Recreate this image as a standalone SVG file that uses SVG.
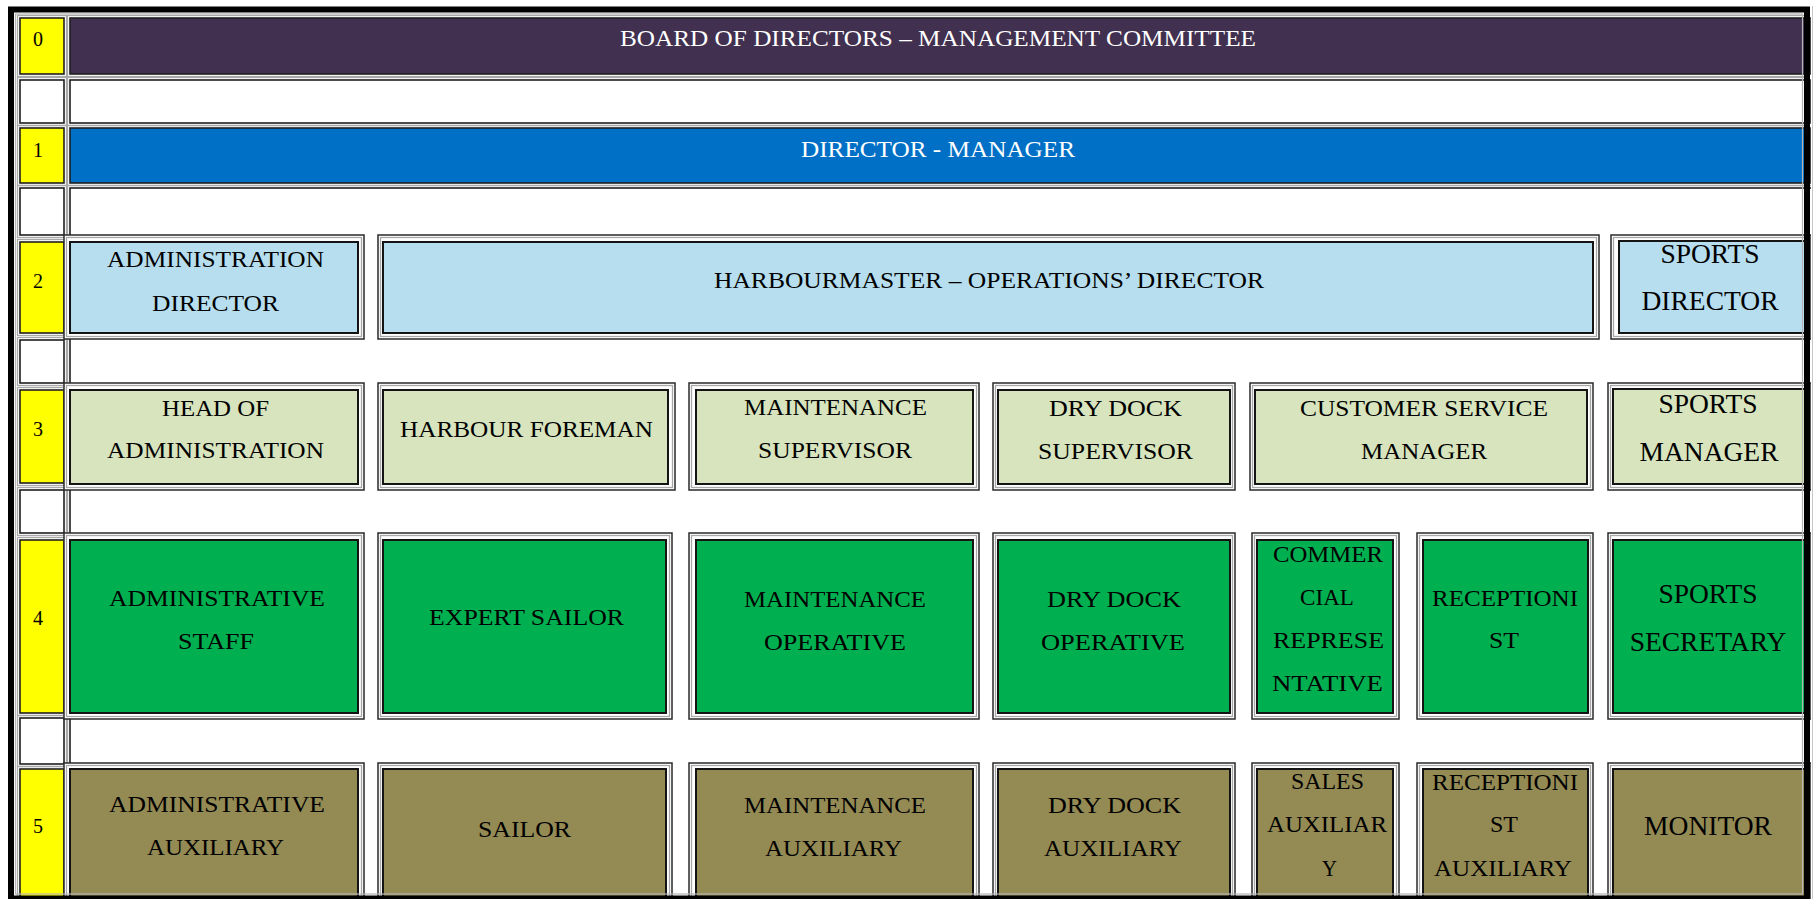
<svg xmlns="http://www.w3.org/2000/svg" width="1815" height="899" viewBox="0 0 1815 899">
<style>
.o{fill:#fff;stroke:#2a2a2a;stroke-width:1.5}
.g{fill:none;stroke:#a8a8a8;stroke-width:1.3}
.f{stroke:#141414;stroke-width:2}
.c{stroke:#1e1e1e;stroke-width:1.6}
.t{font-family:"Liberation Serif","Times New Roman",serif;font-size:23px;fill:#000;text-anchor:middle}
.w{fill:#fff}
.s{font-family:"Liberation Serif","Times New Roman",serif;font-size:27.5px;fill:#000;text-anchor:middle}
.n{font-family:"Liberation Serif","Times New Roman",serif;font-size:20px;fill:#000;text-anchor:middle}
.pu{fill:#41304f}.bl{fill:#0070c6}.lb{fill:#b6deee}.lg{fill:#d7e4bd}.gr{fill:#00b050}.ol{fill:#948a54}.ye{fill:#ffff00}.wh{fill:#fff}
</style>
<rect width="1815" height="899" fill="#fff"/>

<g id="level-column">
  <g id="lv0"><rect class="g" x="17.5" y="15.5" width="49" height="61"/><rect class="c ye" x="20" y="18" width="44" height="56"/><text class="n" x="38" y="46">0</text></g>
  <rect class="g" x="17.5" y="77.5" width="49" height="48"/><rect class="c wh" x="20" y="80" width="44" height="43"/>
  <g id="lv1"><rect class="g" x="17.5" y="125.5" width="49" height="60"/><rect class="c ye" x="20" y="128" width="44" height="55"/><text class="n" x="38" y="157">1</text></g>
  <rect class="g" x="17.5" y="185.5" width="49" height="52"/><rect class="c wh" x="20" y="188" width="44" height="47"/>
  <g id="lv2"><rect class="g" x="17.5" y="239.5" width="49" height="96"/><rect class="c ye" x="20" y="242" width="44" height="91"/><text class="n" x="38" y="288">2</text></g>
  <rect class="g" x="17.5" y="337.5" width="49" height="48"/><rect class="c wh" x="20" y="340" width="44" height="43"/>
  <g id="lv3"><rect class="g" x="17.5" y="387.5" width="49" height="98"/><rect class="c ye" x="20" y="390" width="44" height="93"/><text class="n" x="38" y="436">3</text></g>
  <rect class="g" x="17.5" y="487.5" width="49" height="48"/><rect class="c wh" x="20" y="490" width="44" height="43"/>
  <g id="lv4"><rect class="g" x="17.5" y="537.5" width="49" height="178"/><rect class="c ye" x="20" y="540" width="44" height="173"/><text class="n" x="38" y="625">4</text></g>
  <rect class="g" x="17.5" y="715.5" width="49" height="51"/><rect class="c wh" x="20" y="718" width="44" height="46"/>
  <g id="lv5"><rect class="g" x="17.5" y="766.5" width="49" height="140"/><rect class="c ye" x="20" y="769" width="44" height="135"/><text class="n" x="38" y="833">5</text></g>
</g>

<g id="board">
  <rect class="g" x="67.5" y="15.5" width="1740" height="61"/>
  <rect class="c pu" x="70" y="18" width="1740" height="56"/>
  <text class="t w" x="938" y="46" textLength="636" lengthAdjust="spacingAndGlyphs">BOARD OF DIRECTORS – MANAGEMENT COMMITTEE</text>
</g>
<rect class="g" x="67.5" y="77.5" width="1740" height="48"/>
<rect class="c wh" x="70" y="80" width="1740" height="43"/>
<g id="director-manager">
  <rect class="g" x="67.5" y="125.5" width="1740" height="60"/>
  <rect class="c bl" x="70" y="128" width="1740" height="55"/>
  <text class="t w" x="938" y="157" textLength="274" lengthAdjust="spacingAndGlyphs">DIRECTOR - MANAGER</text>
</g>
<rect class="g" x="67.5" y="185.5" width="1745" height="720"/>
<rect class="c wh" x="70" y="188" width="1745" height="720"/>

<!-- Row 2 -->
<g id="admin-director">
  <rect class="o" x="64" y="235" width="300" height="104"/><rect class="g" x="66.5" y="237.5" width="295" height="99"/>
  <rect class="f lb" x="70" y="242" width="288" height="91"/>
  <text class="t" x="215.5" y="267" textLength="217" lengthAdjust="spacingAndGlyphs">ADMINISTRATION</text>
  <text class="t" x="215.5" y="311" textLength="127" lengthAdjust="spacingAndGlyphs">DIRECTOR</text>
</g>
<g id="harbourmaster">
  <rect class="o" x="378" y="235" width="1221" height="104"/><rect class="g" x="380.5" y="237.5" width="1216" height="99"/>
  <rect class="f lb" x="383" y="242" width="1210" height="91"/>
  <text class="t" x="989" y="288" textLength="550" lengthAdjust="spacingAndGlyphs">HARBOURMASTER – OPERATIONS’ DIRECTOR</text>
</g>
<g id="sports-director">
  <rect class="o" x="1611" y="235" width="200" height="104"/><rect class="g" x="1613.5" y="237.5" width="195" height="99"/>
  <rect class="f lb" x="1619" y="241" width="190" height="92"/>
  <text class="s" x="1710" y="263">SPORTS</text>
  <text class="s" x="1710" y="310">DIRECTOR</text>
</g>

<!-- Row 3 -->
<g id="head-of-administration">
  <rect class="o" x="64" y="383" width="300" height="107"/><rect class="g" x="66.5" y="385.5" width="295" height="102"/>
  <rect class="f lg" x="70" y="390" width="288" height="94"/>
  <text class="t" x="215.5" y="416" textLength="107" lengthAdjust="spacingAndGlyphs">HEAD OF</text>
  <text class="t" x="215.5" y="458" textLength="217" lengthAdjust="spacingAndGlyphs">ADMINISTRATION</text>
</g>
<g id="harbour-foreman">
  <rect class="o" x="378" y="383" width="297" height="107"/><rect class="g" x="380.5" y="385.5" width="292" height="102"/>
  <rect class="f lg" x="383" y="390" width="285" height="94"/>
  <text class="t" x="526.5" y="437" textLength="253" lengthAdjust="spacingAndGlyphs">HARBOUR FOREMAN</text>
</g>
<g id="maintenance-supervisor">
  <rect class="o" x="689" y="383" width="290" height="107"/><rect class="g" x="691.5" y="385.5" width="285" height="102"/>
  <rect class="f lg" x="696" y="390" width="277" height="94"/>
  <text class="t" x="835.5" y="415" textLength="183" lengthAdjust="spacingAndGlyphs">MAINTENANCE</text>
  <text class="t" x="835" y="458" textLength="154" lengthAdjust="spacingAndGlyphs">SUPERVISOR</text>
</g>
<g id="dry-dock-supervisor">
  <rect class="o" x="993" y="383" width="242" height="107"/><rect class="g" x="995.5" y="385.5" width="237" height="102"/>
  <rect class="f lg" x="998" y="390" width="232" height="94"/>
  <text class="t" x="1115.5" y="416" textLength="133" lengthAdjust="spacingAndGlyphs">DRY DOCK</text>
  <text class="t" x="1115.5" y="459" textLength="155" lengthAdjust="spacingAndGlyphs">SUPERVISOR</text>
</g>
<g id="customer-service-manager">
  <rect class="o" x="1250" y="383" width="343" height="107"/><rect class="g" x="1252.5" y="385.5" width="338" height="102"/>
  <rect class="f lg" x="1255" y="390" width="332" height="94"/>
  <text class="t" x="1424" y="416" textLength="248" lengthAdjust="spacingAndGlyphs">CUSTOMER SERVICE</text>
  <text class="t" x="1424" y="459" textLength="126" lengthAdjust="spacingAndGlyphs">MANAGER</text>
</g>
<g id="sports-manager">
  <rect class="o" x="1608" y="383" width="203" height="107"/><rect class="g" x="1610.5" y="385.5" width="198" height="102"/>
  <rect class="f lg" x="1613" y="389" width="196" height="95"/>
  <text class="s" x="1708" y="413">SPORTS</text>
  <text class="s" x="1709" y="461">MANAGER</text>
</g>

<!-- Row 4 -->
<g id="administrative-staff">
  <rect class="o" x="64" y="533" width="300" height="186"/><rect class="g" x="66.5" y="535.5" width="295" height="181"/>
  <rect class="f gr" x="70" y="540" width="288" height="173"/>
  <text class="t" x="217" y="606" textLength="216" lengthAdjust="spacingAndGlyphs">ADMINISTRATIVE</text>
  <text class="t" x="216" y="649" textLength="76" lengthAdjust="spacingAndGlyphs">STAFF</text>
</g>
<g id="expert-sailor">
  <rect class="o" x="378" y="533" width="294" height="186"/><rect class="g" x="380.5" y="535.5" width="289" height="181"/>
  <rect class="f gr" x="383" y="540" width="283" height="173"/>
  <text class="t" x="526.5" y="625" textLength="195" lengthAdjust="spacingAndGlyphs">EXPERT SAILOR</text>
</g>
<g id="maintenance-operative">
  <rect class="o" x="689" y="533" width="290" height="186"/><rect class="g" x="691.5" y="535.5" width="285" height="181"/>
  <rect class="f gr" x="696" y="540" width="277" height="173"/>
  <text class="t" x="835" y="607" textLength="182" lengthAdjust="spacingAndGlyphs">MAINTENANCE</text>
  <text class="t" x="835" y="650" textLength="142" lengthAdjust="spacingAndGlyphs">OPERATIVE</text>
</g>
<g id="dry-dock-operative">
  <rect class="o" x="993" y="533" width="242" height="186"/><rect class="g" x="995.5" y="535.5" width="237" height="181"/>
  <rect class="f gr" x="998" y="540" width="232" height="173"/>
  <text class="t" x="1114" y="607" textLength="134" lengthAdjust="spacingAndGlyphs">DRY DOCK</text>
  <text class="t" x="1113" y="650" textLength="144" lengthAdjust="spacingAndGlyphs">OPERATIVE</text>
</g>
<g id="commercial-representative">
  <rect class="o" x="1252" y="533" width="147" height="186"/><rect class="g" x="1254.5" y="535.5" width="142" height="181"/>
  <rect class="f gr" x="1257" y="540" width="136" height="173"/>
  <text class="t" x="1328" y="562" textLength="110" lengthAdjust="spacingAndGlyphs">COMMER</text>
  <text class="t" x="1327" y="605" textLength="54" lengthAdjust="spacingAndGlyphs">CIAL</text>
  <text class="t" x="1328.5" y="648" textLength="111" lengthAdjust="spacingAndGlyphs">REPRESE</text>
  <text class="t" x="1327.5" y="691" textLength="111" lengthAdjust="spacingAndGlyphs">NTATIVE</text>
</g>
<g id="receptionist">
  <rect class="o" x="1417" y="533" width="176" height="186"/><rect class="g" x="1419.5" y="535.5" width="171" height="181"/>
  <rect class="f gr" x="1423" y="540" width="165" height="173"/>
  <text class="t" x="1505" y="606" textLength="146" lengthAdjust="spacingAndGlyphs">RECEPTIONI</text>
  <text class="t" x="1504" y="648" textLength="30" lengthAdjust="spacingAndGlyphs">ST</text>
</g>
<g id="sports-secretary">
  <rect class="o" x="1608" y="533" width="203" height="186"/><rect class="g" x="1610.5" y="535.5" width="198" height="181"/>
  <rect class="f gr" x="1613" y="540" width="196" height="173"/>
  <text class="s" x="1708" y="603">SPORTS</text>
  <text class="s" x="1708" y="651">SECRETARY</text>
</g>

<!-- Row 5 -->
<g id="administrative-auxiliary">
  <rect class="o" x="64" y="763" width="300" height="150"/><rect class="g" x="66.5" y="765.5" width="295" height="145"/>
  <rect class="f ol" x="70" y="769" width="288" height="140"/>
  <text class="t" x="217" y="812" textLength="216" lengthAdjust="spacingAndGlyphs">ADMINISTRATIVE</text>
  <text class="t" x="215.5" y="855" textLength="137" lengthAdjust="spacingAndGlyphs">AUXILIARY</text>
</g>
<g id="sailor">
  <rect class="o" x="378" y="763" width="294" height="150"/><rect class="g" x="380.5" y="765.5" width="289" height="145"/>
  <rect class="f ol" x="383" y="769" width="283" height="140"/>
  <text class="t" x="524.5" y="837" textLength="93" lengthAdjust="spacingAndGlyphs">SAILOR</text>
</g>
<g id="maintenance-auxiliary">
  <rect class="o" x="689" y="763" width="290" height="150"/><rect class="g" x="691.5" y="765.5" width="285" height="145"/>
  <rect class="f ol" x="696" y="769" width="277" height="140"/>
  <text class="t" x="835" y="813" textLength="182" lengthAdjust="spacingAndGlyphs">MAINTENANCE</text>
  <text class="t" x="833.5" y="856" textLength="137" lengthAdjust="spacingAndGlyphs">AUXILIARY</text>
</g>
<g id="dry-dock-auxiliary">
  <rect class="o" x="993" y="763" width="242" height="150"/><rect class="g" x="995.5" y="765.5" width="237" height="145"/>
  <rect class="f ol" x="998" y="769" width="232" height="140"/>
  <text class="t" x="1114.5" y="813" textLength="133" lengthAdjust="spacingAndGlyphs">DRY DOCK</text>
  <text class="t" x="1113" y="856" textLength="138" lengthAdjust="spacingAndGlyphs">AUXILIARY</text>
</g>
<g id="sales-auxiliary">
  <rect class="o" x="1252" y="763" width="147" height="150"/><rect class="g" x="1254.5" y="765.5" width="142" height="145"/>
  <rect class="f ol" x="1257" y="769" width="136" height="140"/>
  <text class="t" x="1327.5" y="789" textLength="73" lengthAdjust="spacingAndGlyphs">SALES</text>
  <text class="t" x="1327" y="832" textLength="120" lengthAdjust="spacingAndGlyphs">AUXILIAR</text>
  <text class="t" x="1329.5" y="876" textLength="15" lengthAdjust="spacingAndGlyphs">Y</text>
</g>
<g id="receptionist-auxiliary">
  <rect class="o" x="1417" y="763" width="176" height="150"/><rect class="g" x="1419.5" y="765.5" width="171" height="145"/>
  <rect class="f ol" x="1423" y="769" width="165" height="140"/>
  <text class="t" x="1505" y="790" textLength="146" lengthAdjust="spacingAndGlyphs">RECEPTIONI</text>
  <text class="t" x="1504" y="832" textLength="28" lengthAdjust="spacingAndGlyphs">ST</text>
  <text class="t" x="1503" y="876" textLength="138" lengthAdjust="spacingAndGlyphs">AUXILIARY</text>
</g>
<g id="monitor">
  <rect class="o" x="1608" y="763" width="203" height="150"/><rect class="g" x="1610.5" y="765.5" width="198" height="145"/>
  <rect class="f ol" x="1613" y="769" width="196" height="140"/>
  <text class="s" x="1708" y="835">MONITOR</text>
</g>

<g id="connectors"></g>

<g id="frame">
  <rect x="0" y="0" width="8" height="899" fill="#fff"/>
  <rect x="1811" y="0" width="4" height="899" fill="#fff"/>
  <rect x="0" y="0" width="1815" height="6" fill="#fff"/>
  <rect x="11" y="9.5" width="1796" height="889" fill="none" stroke="#000" stroke-width="6"/>
  <rect x="15.5" y="14" width="1787" height="880" fill="none" stroke="#b4b4b4" stroke-width="1.2"/>
  <line x1="1812.5" y1="6" x2="1812.5" y2="899" stroke="#c8c8c8" stroke-width="1"/>
</g>
</svg>
